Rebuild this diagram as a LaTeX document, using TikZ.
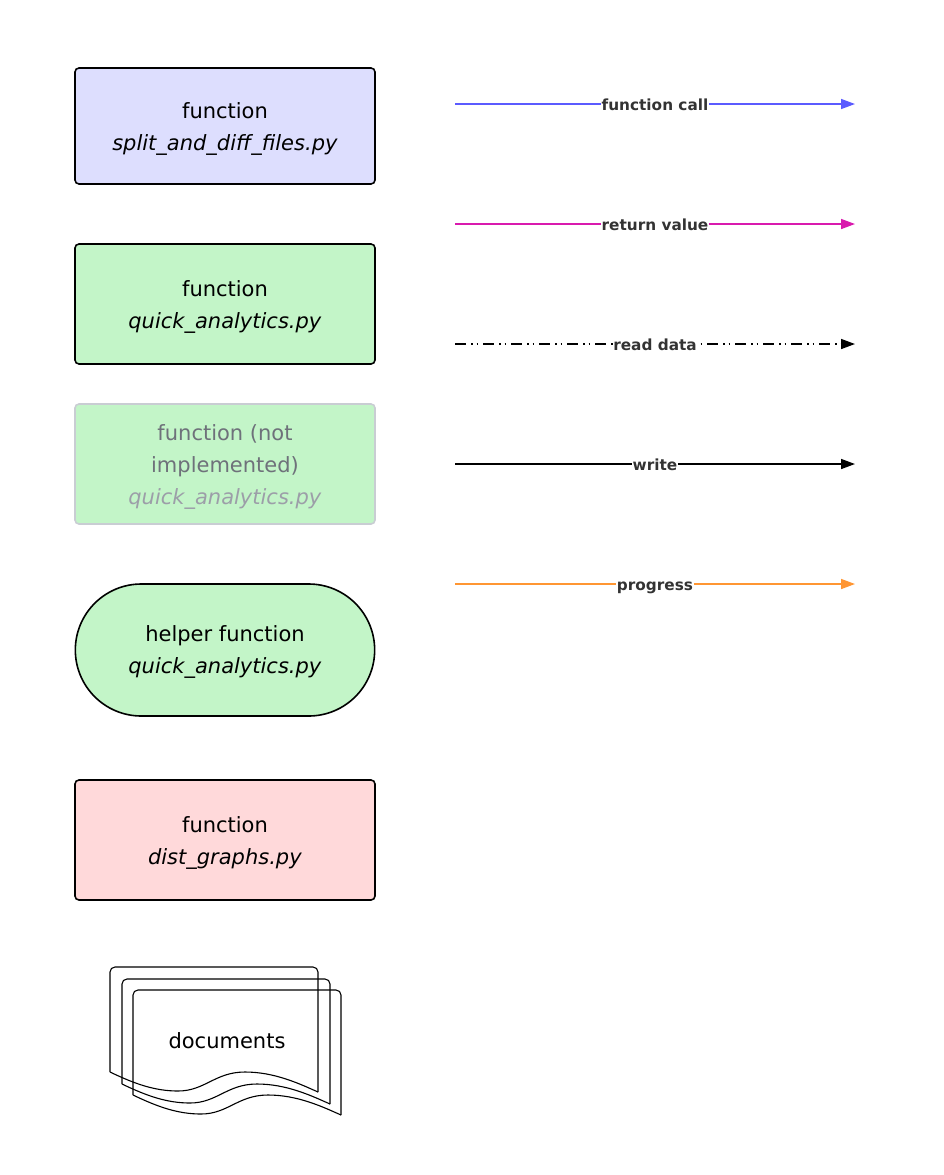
\documentclass[tikz,border=0pt]{standalone}
\usepackage{fontspec}
\setmainfont{DejaVu Sans}
\usetikzlibrary{arrows.meta,positioning,shapes.misc}
\definecolor{fnblue}{HTML}{DDDEFE}
\definecolor{fngreen}{HTML}{C3F5C8}
\definecolor{fnred}{HTML}{FFD9DA}
\definecolor{callblue}{HTML}{5B5BFF}
\definecolor{retpink}{HTML}{D91AAE}
\definecolor{progorange}{HTML}{FF9633}
\definecolor{fadegray}{HTML}{C9CDD3}
\definecolor{fadetext}{HTML}{6E717A}
\definecolor{fadefile}{HTML}{9C9EA8}
\definecolor{labelgray}{HTML}{333333}

\begin{document}
\begin{tikzpicture}[
  x=1pt, y=-1pt,
  fnbox/.style={draw, line width=1.6pt, outer sep=0pt, rounded corners=4pt, align=center, minimum width=300pt, minimum height=116pt, text height=53pt, text depth=5pt, font=\fontsize{21}{32}\selectfont},
  helper/.style={draw, line width=1.6pt, outer sep=0pt, rounded rectangle, align=center, minimum width=306pt, minimum height=132pt, text height=52pt, text depth=5pt, font=\fontsize{21}{32}\selectfont},
  edge/.style={-{Triangle[length=14pt,width=10pt]}, line width=1.5pt},
  lbl/.style={fill=white, inner sep=0.5pt, text height=12pt, text depth=0pt, text=labelgray, font=\bfseries\fontsize{15.3}{18}\selectfont},
  docline/.style={line width=1.1pt}
]
\useasboundingbox (0,0) rectangle (944,1175);
% legend boxes
\node[fnbox, fill=fnblue] (split) at (225,126) {function\\\textit{split\_and\_diff\_files.py}};
\node[fnbox, fill=fngreen, minimum height=120pt, below=60pt of split] (quick) {function\\\textit{quick\_analytics.py}};
\node[fnbox, fill=fngreen, draw=fadegray, minimum height=120pt, text height=85pt, text=fadetext, below=40pt of quick] (todo) {function (not\\implemented)\\\textcolor{fadefile}{\textit{quick\_analytics.py}}};
\node[helper, fill=fngreen, below=60pt of todo] (helperfn) {helper function\\\textit{quick\_analytics.py}};
\node[fnbox, fill=fnred, minimum height=120pt, below=64pt of helperfn] (dist) {function\\\textit{dist\_graphs.py}};
% stacked documents
\foreach \d in {0,12,23}
  \draw[docline, rounded corners=5pt] (110+\d,1072+\d) -- (110+\d,967+\d) -- (318+\d,967+\d) -- (318+\d,1092+\d);
\foreach \d in {0,12,23}
  \draw[docline] (110+\d,1072+\d) .. controls (135+\d,1084+\d) and (155+\d,1091+\d) .. (178+\d,1091+\d)
    .. controls (205+\d,1091+\d) and (215+\d,1072+\d) .. (245+\d,1072+\d)
    .. controls (275+\d,1072+\d) and (300+\d,1084+\d) .. (318+\d,1092+\d);
\node[font=\fontsize{21}{24}\selectfont] (docs) at (227,1041) {documents};
% legend arrows
\coordinate (callA) at (455,104);
\coordinate (callB) at (855,104);
\coordinate (retA) at (455,224);
\coordinate (retB) at (855,224);
\coordinate (readA) at (455,344);
\coordinate (readB) at (855,344);
\coordinate (writeA) at (455,464);
\coordinate (writeB) at (855,464);
\coordinate (progA) at (455,584);
\coordinate (progB) at (855,584);
\draw[edge, callblue] (callA) -- node[lbl] (calllbl) {function call} (callB);
\draw[edge, retpink] (retA) -- node[lbl] (retlbl) {return value} (retB);
\draw[edge, dash pattern=on 11pt off 5pt on 1.5pt off 4pt on 1.5pt off 5pt] (readA) -- node[lbl] (readlbl) {read data} (readB);
\draw[edge] (writeA) -- node[lbl] (writelbl) {write} (writeB);
\draw[edge, progorange] (progA) -- node[lbl] (proglbl) {progress} (progB);
\end{tikzpicture}
\end{document}
